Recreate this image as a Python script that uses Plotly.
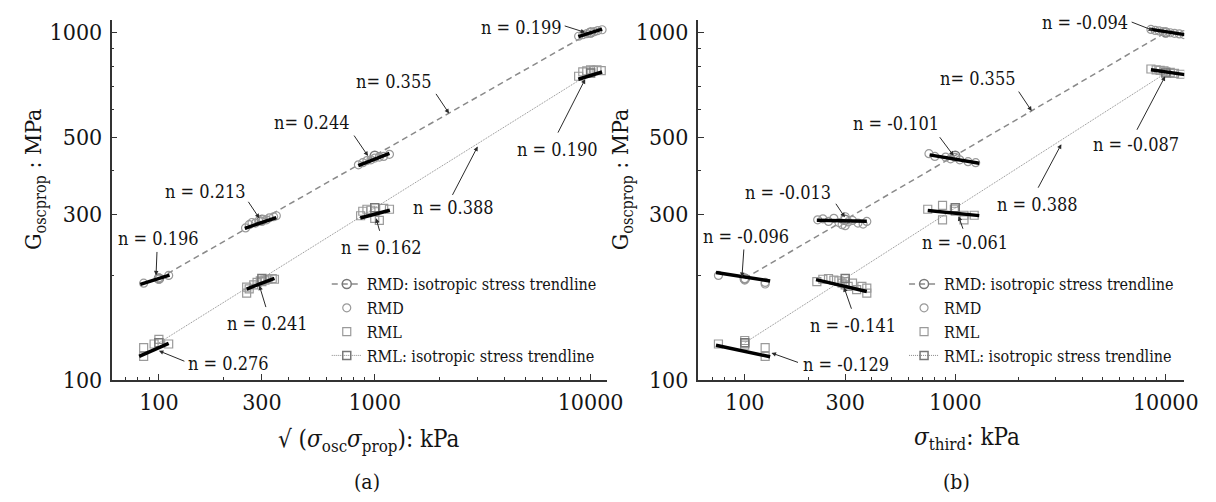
import numpy as np
import plotly.graph_objects as go

FONT = "DejaVu Serif Condensed, DejaVu Serif"
GRAY = "#8a8a8a"
TXT = "#141414"

# ---------------- isotropic trendlines (same in both panels) ----------------
iso_x = [100, 300, 1000, 10000]
rmd_iso_G = [196, 289, 442, 1000]
rml_iso_G = [128, 196, 313, 764]

# ---------------- panel (a): sqrt(sigma_osc * sigma_prop) ----------------
a_rmd_x = [85, 100, 100, 111,
           252, 262, 270, 280, 290, 300, 305, 315, 325, 340, 350,
           840, 880, 920, 960, 1000, 1050, 1100, 1170,
           8800, 9200, 9600, 10000, 10400, 10800, 11300]
a_rmd_G = [190, 195, 197, 200,
           274, 280, 284, 283, 287, 286, 290, 289, 293, 295, 297,
           416, 422, 428, 430, 435, 438, 440, 446,
           975, 985, 992, 1000, 1005, 1012, 1018]
a_rml_x = [85, 85, 95, 100, 111,
           255, 255, 262, 275, 285, 295, 300, 310, 320, 335, 343,
           860, 880, 920, 960, 1000, 1000, 1050, 1100, 1170,
           8800, 9200, 9600, 10000, 10300, 10700, 11200]
a_rml_G = [124, 117, 127, 131, 127,
           178, 185, 183, 188, 191, 193, 192, 194, 195, 196, 195,
           297, 306, 310, 308, 305, 292, 288, 312, 310,
           748, 770, 775, 780, 778, 780, 776]

# local fits: x-range, centre x, centre G, exponent n
a_rmd_fit_lo = [82, 250, 839, 8770]
a_rmd_fit_hi = [112, 350, 1170, 11300]
a_rmd_fit_xc = [100, 300, 1000, 10000]
a_rmd_fit_Gc = [196, 284, 432, 998]
a_rmd_fit_n = [0.196, 0.213, 0.244, 0.199]
a_rml_fit_lo = [81, 255, 857, 8770]
a_rml_fit_hi = [111, 343, 1175, 11300]
a_rml_fit_xc = [100, 300, 1000, 10000]
a_rml_fit_Gc = [124, 190, 300, 752]
a_rml_fit_n = [0.276, 0.241, 0.162, 0.190]

# ---------------- panel (b): sigma_third ----------------
b_rmd_x = [75, 100, 100, 125, 125,
           222, 235, 250, 265, 280, 290, 300, 300, 310, 325, 345, 365, 380,
           750, 800, 900, 950, 1000, 1050, 1150, 1250,
           8500, 8900, 9300, 9700, 10000, 10500, 11000, 11600, 12200]
b_rmd_G = [200, 194, 196, 189, 191,
           289, 291, 286, 292, 284, 280, 295, 278, 285, 288, 283, 281, 286,
           448, 440, 438, 433, 437, 430, 425, 422,
           1020, 1013, 1010, 1006, 1002, 998, 994, 990, 986]
b_rml_x = [75, 100, 100, 100, 125, 125,
           220, 235, 250, 265, 280, 290, 300, 300, 310, 325, 340, 360, 380, 380,
           740, 870, 870, 990, 1000, 1100, 1100, 1230,
           8500, 9000, 9400, 9800, 10000, 10500, 11000, 11800]
b_rml_G = [127, 130, 128, 126, 124, 117,
           192, 195, 196, 194, 193, 190, 192, 188, 186, 190, 182, 186, 184, 178,
           310, 318, 289, 310, 306, 298, 289, 298,
           785, 780, 778, 775, 770, 768, 762, 758]

b_rmd_fit_lo = [73, 220, 755, 8500]
b_rmd_fit_hi = [132, 380, 1300, 12300]
b_rmd_fit_xc = [100, 300, 1000, 10000]
b_rmd_fit_Gc = [198, 287, 432, 1005]
b_rmd_fit_n = [-0.096, -0.013, -0.101, -0.094]
b_rml_fit_lo = [73, 218, 740, 8500]
b_rml_fit_hi = [132, 380, 1300, 12300]
b_rml_fit_xc = [100, 300, 1000, 10000]
b_rml_fit_Gc = [121, 186, 302, 770]
b_rml_fit_n = [-0.129, -0.141, -0.061, -0.087]

# ---------------- annotation labels ----------------
# label, head x, head G, text offset (px), arrow tail offset (px)
a_labels = ["n = 0.196", "n = 0.213", "n= 0.244", "n= 0.355", "n = 0.199",
            "n = 0.190", "n = 0.388", "n = 0.162", "n = 0.241", "n = 0.276"]
a_head_x = [97, 292, 931, 2208, 9440, 9440, 2999, 1014, 292, 100]
a_head_G = [200, 292, 441, 585, 1000, 734, 470, 292, 187, 121.4]
a_text_off = [(2, -37), (-54, -27), (-56, -34), (-55, -32), (-64, -5),
              (-28, 70), (-24, 61), (5, 29), (8, 38), (70, 13)]
a_tail_off = [(1, -25), (-12, -18), (-15, -22), (-14, -21), (-22, -7),
              (-28, 55), (-26, 50), (4, 14), (7, 23), (27, 11)]

b_labels = ["n = -0.096", "n = -0.013", "n = -0.101", "n= 0.355", "n = -0.094",
            "n = -0.087", "n = 0.388", "n = -0.061", "n = -0.141", "n = -0.129"]
b_head_x = [97, 299, 982, 2307, 8710, 9930, 3191, 1036, 296, 134]
b_head_G = [198, 294, 442, 594, 1013, 748, 477, 296, 185, 119.7]
b_text_off = [(4, -40), (-57, -25), (-58, -32), (-54, -33), (-68, -8),
              (-29, 68), (-24, 60), (6, 26), (9, 38), (74, 12)]
b_tail_off = [(2, -29), (-10, -15), (-15, -20), (-14, -21), (-23, -9),
              (-29, 55), (-24, 45), (5, 14), (8, 23), (28, 10)]

fig = go.Figure()


def fit_segments(lo, hi, xc, Gc, n):
    xs, ys = [], []
    for l, h, c, g, e in zip(lo, hi, xc, Gc, n):
        for xv in (l, h):
            xs.append(xv)
            ys.append(g * (xv / c) ** e)
        xs.append(None)
        ys.append(None)
    return xs, ys


def add_panel(xa, ya, leg, rmd_x, rmd_G, rml_x, rml_G, rmd_fit, rml_fit):
    fig.add_trace(go.Scatter(
        x=iso_x, y=rmd_iso_G, mode="lines+markers", name="RMD: isotropic stress trendline",
        line=dict(color=GRAY, width=1.5, dash="6px,4px"),
        marker=dict(symbol="circle-open", size=9, color="#777777", line=dict(width=1.5)),
        xaxis=xa, yaxis=ya, legend=leg))
    fig.add_trace(go.Scatter(
        x=rmd_x, y=rmd_G, mode="markers", name="RMD",
        marker=dict(symbol="circle-open", size=8, color="#9a9a9a", line=dict(width=1.2)),
        xaxis=xa, yaxis=ya, legend=leg))
    fig.add_trace(go.Scatter(
        x=rml_x, y=rml_G, mode="markers", name="RML",
        marker=dict(symbol="square-open", size=8, color="#9a9a9a", line=dict(width=1.2)),
        xaxis=xa, yaxis=ya, legend=leg))
    fig.add_trace(go.Scatter(
        x=iso_x, y=rml_iso_G, mode="lines+markers", name="RML: isotropic stress trendline",
        line=dict(color=GRAY, width=1, dash="1px,1px"),
        marker=dict(symbol="square-open", size=8, color="#777777", line=dict(width=1.5)),
        xaxis=xa, yaxis=ya, legend=leg))
    for fx, fy in (fit_segments(*rmd_fit), fit_segments(*rml_fit)):
        fig.add_trace(go.Scatter(
            x=fx, y=fy, mode="lines", line=dict(color="black", width=3.5),
            showlegend=False, xaxis=xa, yaxis=ya, legend=leg))


add_panel("x", "y", "legend", a_rmd_x, a_rmd_G, a_rml_x, a_rml_G,
          (a_rmd_fit_lo, a_rmd_fit_hi, a_rmd_fit_xc, a_rmd_fit_Gc, a_rmd_fit_n),
          (a_rml_fit_lo, a_rml_fit_hi, a_rml_fit_xc, a_rml_fit_Gc, a_rml_fit_n))
add_panel("x2", "y2", "legend2", b_rmd_x, b_rmd_G, b_rml_x, b_rml_G,
          (b_rmd_fit_lo, b_rmd_fit_hi, b_rmd_fit_xc, b_rmd_fit_Gc, b_rmd_fit_n),
          (b_rml_fit_lo, b_rml_fit_hi, b_rml_fit_xc, b_rml_fit_Gc, b_rml_fit_n))

annotations = []
for (xr, yr, labels, hx, hG, toff, aoff) in (
        ("x", "y", a_labels, a_head_x, a_head_G, a_text_off, a_tail_off),
        ("x2", "y2", b_labels, b_head_x, b_head_G, b_text_off, b_tail_off)):
    for lab, x0, g0, (tx, ty), (ax, ay) in zip(labels, hx, hG, toff, aoff):
        lx, ly = float(np.log10(x0)), float(np.log10(g0))
        annotations.append(dict(
            xref=xr, yref=yr, x=lx, y=ly, text="", showarrow=True,
            ax=ax, ay=ay, arrowhead=2, arrowsize=0.9, arrowwidth=1,
            arrowcolor="#2a2a2a", standoff=0, startstandoff=0))
        annotations.append(dict(
            xref=xr, yref=yr, x=lx, y=ly, text=lab, showarrow=False,
            xshift=tx, yshift=-ty, xanchor="center", yanchor="middle",
            font=dict(family=FONT, size=18, color=TXT)))

# axis titles and panel captions (paper coordinates)
W, H = 1216, 502


def px(xp, yp):
    return xp / W, 1 - yp / H


for txt, (xp, yp), ang, sz in (
        ("G<sub>oscprop</sub> : MPa", (28, 176), -90, 23),
        ("G<sub>oscprop</sub> : MPa", (623, 176), -90, 23),
        ("√ (<i>σ</i><sub>osc</sub><i>σ</i><sub>prop</sub>): kPa", (366, 444), 0, 24),
        ("<i>σ</i><sub>third</sub>: kPa", (972, 442), 0, 24),
        ("(a)", (364, 487), 0, 21),
        ("(b)", (961, 487), 0, 21)):
    X, Y = px(xp, yp)
    annotations.append(dict(xref="paper", yref="paper", x=X, y=Y, text=txt,
                            showarrow=False, textangle=ang, xanchor="center",
                            yanchor="middle", font=dict(family=FONT, size=sz, color=TXT)))


def xaxis_cfg(domain, rng):
    return dict(type="log", domain=domain, range=rng,
                showline=True, linecolor="#333", linewidth=1.5, mirror=False,
                showgrid=False, zeroline=False,
                tickmode="array", tickvals=[100, 300, 1000, 10000],
                ticktext=["100", "300", "1000", "10000"],
                ticks="inside", ticklen=6, tickwidth=1.2, tickcolor="#333",
                ticklabelstandoff=1,
                minor=dict(tickmode="array",
                           tickvals=[60, 70, 80, 90, 200, 400, 500, 600, 700, 800, 900,
                                     2000, 3000, 4000, 5000, 6000, 7000, 8000, 9000],
                           ticks="inside", ticklen=3, tickwidth=1, tickcolor="#333"),
                tickfont=dict(family=FONT, size=23, color=TXT))


def yaxis_cfg(anchor):
    return dict(type="log", domain=[1 - 382 / H, 1 - 12 / H], range=[2, np.log10(1088)],
                anchor=anchor,
                showline=True, linecolor="#333", linewidth=1.5, mirror=False,
                showgrid=False, zeroline=False,
                tickmode="array", tickvals=[100, 300, 500, 1000],
                ticktext=["100", "300", "500", "1000"],
                ticks="inside", ticklen=6, tickwidth=1.2, tickcolor="#333",
                ticklabelstandoff=3,
                minor=dict(tickmode="array", tickvals=[200, 400, 600, 700, 800, 900],
                           ticks="inside", ticklen=3, tickwidth=1, tickcolor="#333"),
                tickfont=dict(family=FONT, size=23, color=TXT))


leg_common = dict(font=dict(family=FONT, size=16, color=TXT), bgcolor="rgba(0,0,0,0)",
                  borderwidth=0, itemwidth=30, tracegroupgap=0,
                  xanchor="left", yanchor="top", traceorder="normal")

fig.update_layout(
    width=W, height=H,
    margin=dict(l=0, r=0, t=0, b=0),
    paper_bgcolor="white", plot_bgcolor="white",
    font=dict(family=FONT, color=TXT),
    xaxis=xaxis_cfg([105 / W, 607 / W], [1.781, 4.076]) | dict(anchor="y"),
    yaxis=yaxis_cfg("x"),
    xaxis2=xaxis_cfg([699 / W, 1192 / W], [1.777, 4.088]) | dict(anchor="y2"),
    yaxis2=yaxis_cfg("x2"),
    legend=dict(x=323 / W, y=1 - 266 / H, **leg_common),
    legend2=dict(x=908 / W, y=1 - 266 / H, **leg_common),
    annotations=annotations,
    showlegend=True,
)

fig.write_html("out.html")
